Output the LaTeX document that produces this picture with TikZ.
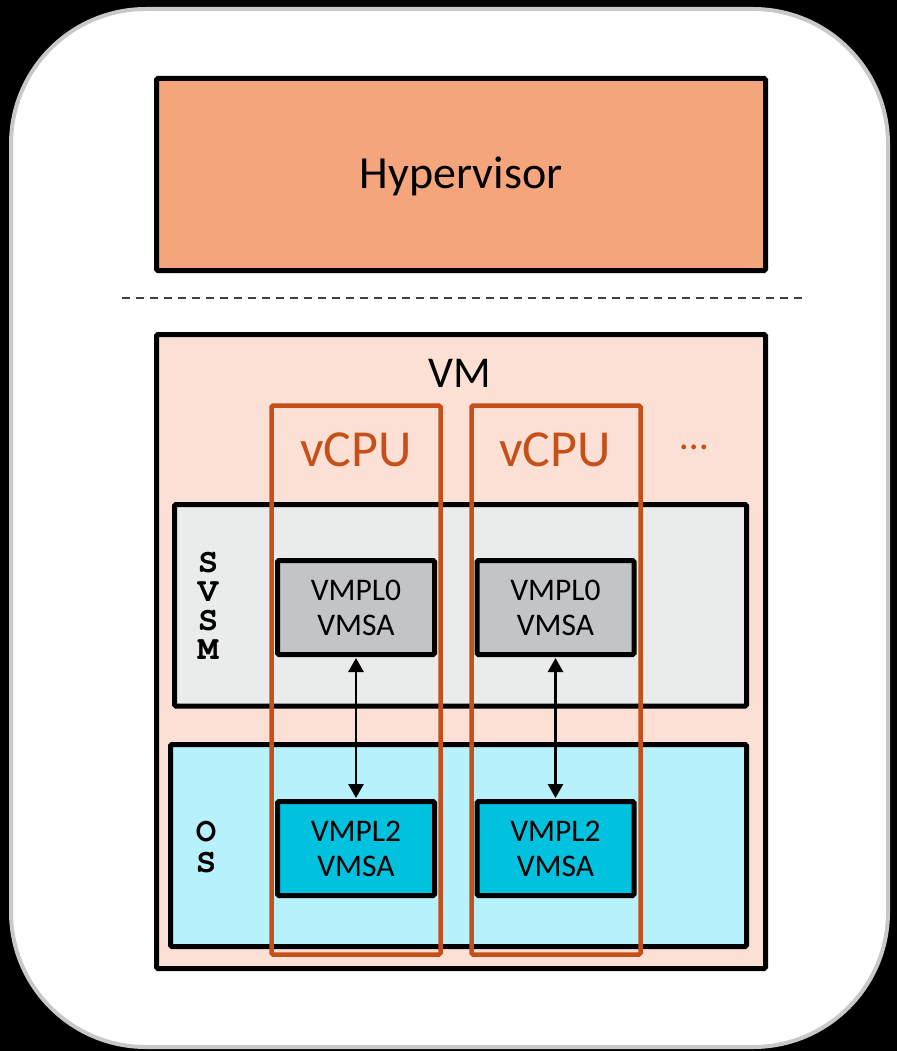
\documentclass[tikz,border=0pt]{standalone}
\usepackage{fontspec}
\setmainfont{Carlito}
\newfontfamily\monob{texgyrecursor-bold.otf}
\usetikzlibrary{arrows.meta}
\definecolor{hypfill}{HTML}{F4A57B}
\definecolor{vmfill}{HTML}{FCE0D6}
\definecolor{cpuorange}{HTML}{C5501A}
\definecolor{svsmfill}{HTML}{EAEBEB}
\definecolor{vmpl0fill}{HTML}{C3C4C6}
\definecolor{osfill}{HTML}{B6F1FC}
\definecolor{vmpl2fill}{HTML}{00C1DE}
\definecolor{framegray}{HTML}{C8C8C8}
\tikzset{
  blackbox/.style={draw=black, line width=5pt, rounded corners=1.5pt},
  cpubox/.style={draw=cpuorange, line width=4.5pt, rounded corners=1.5pt},
  vmsabox/.style={draw=black, line width=5pt, rounded corners=1.5pt, minimum width=157pt, minimum height=94pt, inner sep=0pt, align=center, font=\fontsize{31.5}{35}\selectfont},
  sidelabel/.style={inner sep=0pt, text depth=0pt, align=center, anchor=south},
  link/.style={line width=2.8pt, {Triangle[length=14pt,width=15pt]}-{Triangle[length=14pt,width=15pt]}, shorten <=1pt, shorten >=1pt}
}
\begin{document}
\begin{tikzpicture}[x=1pt,y=-1pt]
\fill[black] (0,0) rectangle (897,1051);
\useasboundingbox (0,0) rectangle (897,1051);
% outer rounded frame
\draw[draw=framegray, fill=white, line width=4pt, rounded corners=135pt] (11,9) rectangle (888,1047);
% hypervisor
\draw[blackbox, fill=hypfill] (156.5,78.5) rectangle (765.5,270.5);
\node[font=\fontsize{46}{50}\selectfont] (hyp) at (461,176) {Hypervisor};
% dashed separator
\coordinate (dl) at (122,298);
\coordinate (dr) at (802,298);
\draw[line width=1.5pt, draw=black!75, dash pattern=on 8pt off 6pt] (dl) -- (dr);
% VM
\draw[blackbox, fill=vmfill] (156.5,334.5) rectangle (765.5,968.5);
\node[font=\fontsize{44}{48}\selectfont] (vm) at (460,373) {VM};
% SVSM layer
\draw[blackbox, fill=svsmfill] (174.5,504.5) rectangle (746.5,706);
% OS layer
\draw[blackbox, fill=osfill] (170.5,744.5) rectangle (746.5,946.5);
% side labels
\node[sidelabel, font=\monob\fontsize{34}{29}\selectfont] (svsm) at (208,660) {S\\V\\S\\M};
\node[sidelabel, font=\monob\fontsize{34}{31}\selectfont] (os) at (206,873) {O\\S};
% VMSA boxes
\node[vmsabox, fill=vmpl0fill] (a0) at (356,607.5) {VMPL0\\VMSA};
\node[vmsabox, fill=vmpl0fill] (b0) at (555.5,607.5) {VMPL0\\VMSA};
\node[vmsabox, fill=vmpl2fill] (a2) at (356,848.5) {VMPL2\\VMSA};
\node[vmsabox, fill=vmpl2fill] (b2) at (555.5,848.5) {VMPL2\\VMSA};
\draw[link] (a0.south) -- (a2.north);
\draw[link] (b0.south) -- (b2.north);
% vCPU frames
\draw[cpubox] (271.5,405.5) rectangle (440.5,954.5);
\draw[cpubox] (471.5,405.5) rectangle (640.5,954.5);
\node[text=cpuorange, font=\fontsize{52}{56}\selectfont] (c1) at (356,450) {vCPU};
\node[text=cpuorange, font=\fontsize{52}{56}\selectfont] (c2) at (555,450) {vCPU};
\node[text=cpuorange, font=\fontsize{40}{44}\selectfont, anchor=base] (dots) at (694,449) {…};
\end{tikzpicture}
\end{document}
